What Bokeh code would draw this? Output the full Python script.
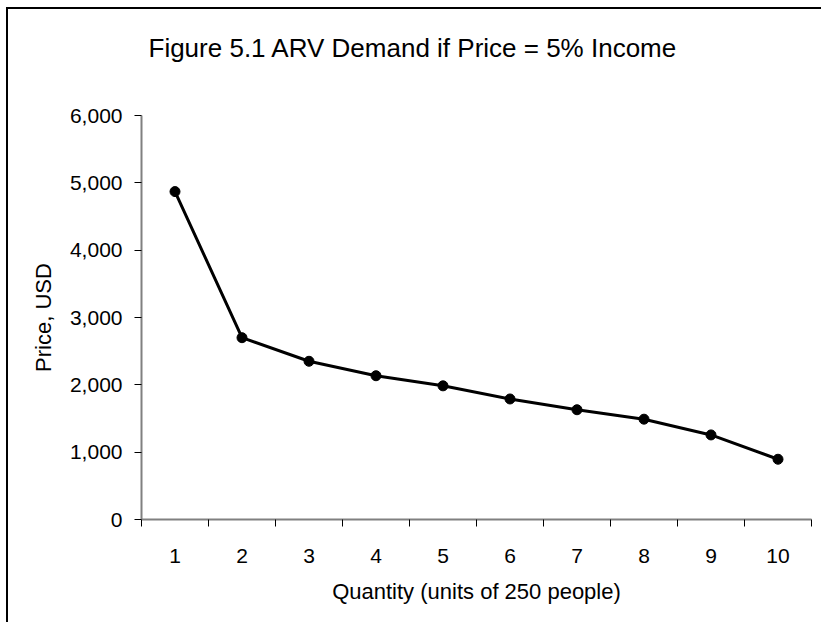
from bokeh.plotting import figure
from bokeh.embed import file_html
from bokeh.resources import INLINE
from bokeh.models import Range1d, FixedTicker, NumeralTickFormatter, Title

quantity = [1, 2, 3, 4, 5, 6, 7, 8, 9, 10]
price = [4870, 2700, 2350, 2135, 1985, 1790, 1630, 1490, 1256, 895]
x_tick_labels = {q: str(q) for q in quantity}
y_ticks = [0, 1000, 2000, 3000, 4000, 5000, 6000]
title_text = "Figure 5.1 ARV Demand if Price = 5% Income"

FONT = "Liberation Sans"
W, H = 815, 615

p = figure(width=W, height=H, output_backend="svg", toolbar_location=None,
           x_range=Range1d(0.5, 10.5), y_range=Range1d(0, 6000),
           min_border_left=133, min_border_right=12, min_border_top=106, min_border_bottom=105)
p.styles = {"border-left": "2px solid #000", "border-top": "2px solid #000",
            "margin-left": "6px", "margin-top": "7px"}

# spacer panel between plot area and title (nearest to the frame)
p.add_layout(Title(text=" ", text_font_size="1px", standoff=49), "above")
p.add_layout(Title(text=title_text, align="left", offset=7, vertical_align="middle", standoff=0,
                   text_font=FONT, text_font_size="26px", text_font_style="normal",
                   text_color="#000000"), "above")

p.outline_line_color = None
p.xgrid.grid_line_color = None
p.ygrid.grid_line_color = None
p.background_fill_color = "white"
p.border_fill_color = "white"

p.line(quantity, price, line_color="black", line_width=3)
p.scatter(quantity, price, size=10, fill_color="black", line_color="black")

xa = p.xaxis[0]
xa.ticker = FixedTicker(ticks=quantity, minor_ticks=[q - 0.5 for q in quantity] + [10.5])
xa.major_label_overrides = x_tick_labels
xa.major_tick_line_color = None
xa.major_tick_out = 0
xa.major_tick_in = 0
xa.minor_tick_line_color = "black"
xa.minor_tick_out = 7
xa.minor_tick_in = 0
xa.axis_line_color = "#808080"
xa.axis_line_width = 2
xa.major_label_standoff = 22
xa.axis_label = "Quantity (units of 250 people)"
xa.axis_label_standoff = 13

ya = p.yaxis[0]
ya.ticker = FixedTicker(ticks=y_ticks)
ya.formatter = NumeralTickFormatter(format="0,0")
ya.minor_tick_line_color = None
ya.major_tick_line_color = "black"
ya.major_tick_out = 7
ya.major_tick_in = 0
ya.axis_line_color = "#808080"
ya.axis_line_width = 2
ya.major_label_standoff = 12
ya.axis_label = "Price, USD"
ya.axis_label_standoff = 11

for ax in (xa, ya):
    ax.major_label_text_font = FONT
    ax.major_label_text_font_size = "21px"
    ax.major_label_text_color = "black"
    ax.axis_label_text_font = FONT
    ax.axis_label_text_font_size = "22px"
    ax.axis_label_text_font_style = "normal"
    ax.axis_label_text_color = "black"

open("out.html", "w").write(file_html(p, INLINE))
